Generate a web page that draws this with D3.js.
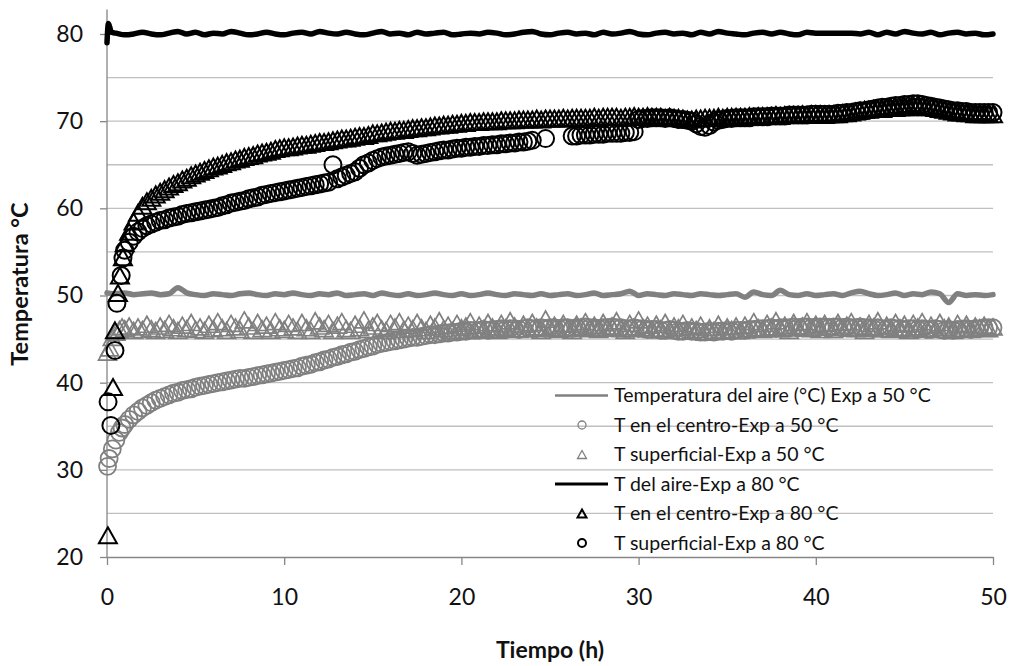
<!DOCTYPE html>
<html>
<head>
<meta charset="utf-8">
<script src="https://cdn.jsdelivr.net/npm/d3@7"></script>
<style>
  body { margin: 0; background: #fff; }
  text { font-family: Lato, "Open Sans", sans-serif; fill: #111; }
</style>
</head>
<body>
<script>
var legendLabels = ["Temperatura del aire (°C) Exp a 50 °C", "T en el centro-Exp a 50 °C", "T superficial-Exp a 50 °C",
                    "T del aire-Exp a 80 °C", "T en el centro-Exp a 80 °C", "T superficial-Exp a 80 °C"];
var xTicks = [0, 10, 20, 30, 40, 50],
    yTicks = [20, 30, 40, 50, 60, 70, 80],
    gridValues = [25, 30, 35, 40, 45, 50, 55, 60, 65, 70, 75, 80],
    yAxisTop = 82.8;

var lineStep = 0.5, markStep = 0.25, markStart = 1;   // logger sampling (h)

// air temperature, 50 °C run: t = 0 .. 50 every 0.5 h
var aire50 = [
  50.3, 50.2, 50.3, 50.1, 50.2, 50.3, 50.1, 50.2, 50.9, 50.3, 50.1, 50.0, 50.2, 50.1, 50.0, 50.2, 50.3, 50.1, 50.0, 50.2,
  50.1, 50.3, 50.1, 50.0, 50.2, 50.1, 50.3, 50.0, 50.1, 50.2, 50.0, 50.3, 50.1, 50.0, 50.2, 50.0, 50.1, 50.3, 50.1, 50.0,
  50.2, 50.0, 50.1, 50.3, 50.1, 50.0, 50.2, 50.1, 50.0, 50.2, 50.0, 50.1, 50.2, 50.0, 50.1, 50.3, 50.0, 50.1, 50.2, 50.5,
  50.0, 50.2, 50.1, 50.0, 50.2, 50.1, 50.0, 50.2, 50.1, 50.0, 50.1, 50.2, 49.8, 50.4, 50.1, 50.0, 50.6, 50.1, 50.0, 50.2,
  50.0, 50.1, 50.2, 50.0, 50.3, 50.5, 50.2, 50.0, 50.1, 50.3, 50.0, 50.2, 50.1, 50.4, 50.2, 49.2, 50.2, 50.0, 50.1, 50.0,
  50.1];

// air temperature, 80 °C run: first readings, then t = 0.5 .. 50 every 0.5 h
var aire80Start = [[0, 79.0], [0.08, 81.2], [0.25, 80.2]];
var aire80 = [
  80.1, 79.9, 80.0, 80.2, 80.0, 79.9, 80.1, 80.3, 80.0, 80.2, 79.9, 80.1, 80.0, 80.3, 80.1, 79.9, 80.0, 80.2, 80.0, 79.9,
  80.1, 80.2, 80.0, 80.3, 80.1, 80.0, 80.2, 80.0, 79.9, 80.1, 80.3, 80.0, 80.1, 79.9, 80.2, 80.0, 80.1, 80.2, 79.9, 80.0,
  80.1, 80.0, 80.2, 80.1, 79.9, 80.0, 80.2, 80.3, 80.0, 79.9, 80.1, 80.2, 80.0, 80.1, 79.9, 80.2, 80.0, 80.1, 80.3, 80.0,
  79.9, 80.1, 80.2, 80.0, 80.1, 79.9, 80.2, 80.0, 80.3, 80.1, 80.0, 79.9, 80.1, 80.2, 80.0, 80.2, 80.0, 79.9, 80.2, 80.1,
  80.1, 80.1, 80.1, 80.1, 80.0, 80.2, 79.9, 80.2, 80.0, 80.3, 80.1, 80.0, 80.2, 79.9, 80.1, 80.2, 80.0, 80.1, 79.9, 80.0];

// product temperatures: first readings [t, T], then t = 1 .. 50 every 0.25 h (null = no reading)
var centro50Start = [[0.03, 30.4], [0.12, 31.3], [0.3, 32.4], [0.5, 33.4], [0.7, 34.3], [0.85, 34.8]];
var centro50 = [
  35.2, 35.8, 36.3, 36.7, 37.1, 37.4, 37.7, 38.0, 38.2, 38.4, 38.6, 38.8, 38.9, 39.1, 39.2, 39.3, 39.5, 39.6, 39.7, 39.8,
  39.9, 40.0, 40.1, 40.2, 40.3, 40.4, 40.5, 40.5, 40.6, 40.7, 40.8, 40.9, 41.0, 41.1, 41.2, 41.3, 41.4, 41.5, 41.6, 41.7,
  41.9, 42.0, 42.1, 42.3, 42.4, 42.6, 42.7, 42.9, 43.0, 43.2, 43.3, 43.5, 43.6, 43.8, 43.9, 44.1, 44.2, 44.4, 44.5, 44.6,
  44.7, 44.8, 44.9, 45.0, 45.1, 45.2, 45.2, 45.3, 45.4, 45.5, 45.5, 45.6, 45.7, 45.7, 45.8, 45.8, 45.9, 45.9, 46.0, 46.0,
  46.0, 46.1, 46.0, 46.1, 46.1, 46.2, 46.1, 46.2, 46.2, 46.1, 46.2, 46.3, 46.2, 46.2, 46.3, 46.2, 46.3, 46.3, 46.2, 46.3,
  46.3, 46.2, 46.3, 46.3, 46.4, 46.3, 46.3, 46.2, 46.3, 46.3, 46.4, 46.3, 46.3, 46.2, 46.2, 46.3, 46.2, 46.2, 46.1, 46.1,
  46.1, 46.0, 46.0, 46.1, 46.0, 45.9, 45.9, 46.0, 45.9, 45.9, 45.8, 45.8, 45.9, 45.8, 45.9, 45.9, 46.0, 45.9, 46.0, 46.0,
  46.0, 46.1, 46.1, 46.2, 46.2, 46.2, 46.3, 46.2, 46.3, 46.3, 46.3, 46.4, 46.3, 46.4, 46.4, 46.3, 46.4, 46.4, 46.4, 46.3,
  46.4, 46.4, 46.3, 46.4, 46.3, 46.3, 46.4, 46.3, 46.3, 46.2, 46.3, 46.2, 46.2, 46.3, 46.2, 46.2, 46.1, 46.2, 46.2, 46.1,
  46.2, 46.1, 46.1, 46.2, 46.1, 46.0, 46.1, 46.0, 46.1, 46.1, 46.2, 46.1, 46.2, 46.2, 46.3, 46.3, 46.3];

var sup50Start = [[0.03, 43.5], [0.15, 44.0], [0.3, 45.2], [0.5, 45.8], [0.7, 46.1], [0.85, 46.4]];
var sup50 = [
  46.2, 46.5, 46.0, 46.4, 46.1, 46.7, 46.2, 46.0, 46.5, 46.1, 46.8, 46.3, 46.0, 46.6, 46.2, 46.9, 46.1, 46.4, 46.0, 46.7,
  46.2, 47.0, 46.3, 46.0, 46.8, 46.4, 46.1, 47.2, 46.5, 46.0, 46.9, 46.2, 46.6, 46.0, 47.0, 46.3, 46.1, 46.8, 46.4, 46.0,
  46.9, 46.3, 46.0, 47.1, 46.5, 46.2, 46.8, 46.0, 46.6, 47.0, 46.2, 46.0, 46.7, 46.3, 47.2, 46.1, 46.5, 46.9, 46.2, 46.0,
  46.8, 46.4, 47.0, 46.1, 46.6, 46.2, 46.9, 46.3, 46.0, 46.7, 46.4, 47.1, 46.2, 46.6, 46.0, 46.8, 46.3, 46.5, 47.0, 46.1,
  46.6, 46.2, 46.9, 46.4, 46.0, 46.8, 46.3, 47.1, 46.5, 46.1, 46.7, 46.2, 46.9, 46.4, 46.0, 47.3, 46.3, 46.6, 46.1, 46.8,
  46.3, 46.0, 46.7, 46.4, 47.0, 46.2, 46.6, 46.1, 46.9, 46.3, 46.5, 47.1, 46.2, 46.0, 46.8, 46.4, 47.2, 46.3, 46.6, 46.1,
  46.7, 46.2, 46.9, 46.0, 46.5, 46.3, 46.8, 45.9, 46.4, 46.1, 46.6, 45.8, 46.3, 46.0, 46.7, 45.9, 46.4, 46.1, 46.5, 46.0,
  46.6, 46.2, 47.0, 46.3, 46.1, 46.8, 46.4, 47.1, 46.2, 46.6, 46.0, 46.9, 46.3, 46.5, 47.0, 46.2, 46.7, 46.1, 46.8, 46.4,
  46.1, 46.9, 46.3, 46.6, 47.0, 46.2, 46.5, 46.0, 46.8, 46.4, 47.1, 46.2, 46.6, 46.1, 46.9, 46.3, 46.7, 46.0, 46.8, 46.4,
  47.0, 46.2, 46.6, 46.1, 46.9, 46.3, 46.5, 46.0, 46.8, 46.2, 46.7, 46.1, 46.5, 46.3, 46.6, 46.2, 46.4];

var centro80Start = [[0.05, 22.5], [0.34, 39.5], [0.45, 46.0], [0.62, 50.3], [0.73, 52.3], [0.9, 54.4]];
var centro80 = [
  56.0, 57.3, 58.5, 59.5, 60.3, 60.8, 61.2, 61.6, 61.9, 62.2, 62.5, 62.8, 63.0, 63.3, 63.5, 63.8, 64.0, 64.2, 64.4, 64.6,
  64.8, 64.9, 65.1, 65.3, 65.4, 65.6, 65.7, 65.9, 66.0, 66.1, 66.3, 66.4, 66.5, 66.6, 66.8, 66.9, 67.0, 67.0, 67.1, 67.2,
  67.3, 67.3, 67.4, 67.5, 67.6, 67.6, 67.7, 67.8, 67.9, 68.0, 68.0, 68.1, 68.2, 68.3, 68.3, 68.4, 68.6, 68.6, 68.7, 68.8,
  68.9, 68.9, 69.0, 69.0, 69.1, 69.2, 69.2, 69.3, 69.3, 69.4, 69.5, 69.5, 69.6, 69.6, 69.7, 69.7, 69.8, 69.8, 69.9, 69.9,
  69.9, 70.0, 70.0, 70.0, 70.0, 70.1, 70.1, 70.1, 70.1, 70.2, 70.2, 70.2, 70.2, 70.3, 70.2, 70.3, 70.3, 70.3, 70.3, 70.4,
  70.3, 70.4, 70.4, 70.4, 70.4, 70.4, 70.5, 70.4, 70.5, 70.5, 70.5, 70.5, 70.4, 70.5, 70.5, 70.6, 70.5, 70.5, 70.6, 70.5,
  70.5, 70.5, 70.4, 70.5, 70.4, 70.4, 70.3, 70.2, 70.2, 70.3, 70.3, 70.4, 70.4, 70.4, 70.5, 70.4, 70.5, 70.5, 70.5, 70.5,
  70.5, 70.6, 70.5, 70.6, 70.6, 70.6, 70.6, 70.7, 70.6, 70.7, 70.7, 70.7, 70.7, 70.8, 70.7, 70.8, 70.8, 70.8, 70.7, 70.8,
  70.8, 70.8, 70.9, 70.9, 71.0, 71.1, 71.2, 71.3, 71.3, 71.4, 71.4, 71.4, 71.5, 71.5, 71.5, 71.6, 71.6, 71.6, 71.7, 71.7,
  71.7, 71.6, 71.6, 71.5, 71.4, 71.3, 71.2, 71.1, 71.0, 71.0, 70.9, 70.9, 70.8, 70.8, 70.8, 70.8, 70.8];

var sup80Start = [[0.06, 37.8], [0.22, 35.1], [0.45, 43.7], [0.56, 49.1], [0.8, 52.3], [0.9, 54.3]];
var sup80 = [
  55.2, 56.1, 56.8, 57.3, 57.7, 58.0, 58.2, 58.4, 58.6, 58.7, 58.9, 59.0, 59.1, 59.3, 59.4, 59.5, 59.6, 59.7, 59.8, 59.9,
  60.0, 60.1, 60.3, 60.4, 60.6, 60.7, 60.8, 60.9, 61.1, 61.2, 61.3, 61.5, 61.6, 61.7, 61.8, 61.9, 62.0, 62.1, 62.2, 62.3,
  62.4, 62.5, 62.6, 62.7, 62.8, 62.9, 63.0, 65.0, 63.4, 63.6, 63.8, 64.0, 64.2, 64.6, 65.0, 65.2, 65.5, 65.7, 65.9, 66.0,
  66.1, 66.2, 66.3, 66.4, 66.5, 66.3, 66.1, 66.2, 66.3, 66.4, 66.5, 66.6, 66.7, 66.7, 66.8, 66.9, 66.9, 67.0, 67.0, 67.1,
  67.1, 67.2, 67.2, 67.3, 67.3, 67.4, 67.4, 67.5, 67.5, 67.6, 67.6, 67.7, 67.8, null, null, 68.0, null, null, null, null,
  null, 68.3, 68.3, 68.4, 68.4, 68.4, 68.5, 68.5, 68.5, 68.6, 68.6, 68.6, 68.6, 68.7, 68.7, 68.8, 70.2, 70.3, 70.3, 70.4,
  70.4, 70.4, 70.3, 70.4, 70.3, 70.2, 70.2, 70.1, 70.0, 69.7, 69.4, 69.3, 69.5, 69.9, 70.1, 70.2, 70.3, 70.3, 70.4, 70.4,
  70.4, 70.4, 70.5, 70.5, 70.5, 70.5, 70.6, 70.6, 70.6, 70.6, 70.7, 70.7, 70.7, 70.7, 70.7, 70.8, 70.8, 70.8, 70.8, 70.8,
  70.8, 70.9, 70.9, 71.0, 71.0, 71.1, 71.2, 71.2, 71.3, 71.4, 71.5, 71.6, 71.6, 71.7, 71.8, 71.8, 71.9, 71.9, 72.0, 72.0,
  71.9, 71.8, 71.7, 71.6, 71.5, 71.4, 71.3, 71.2, 71.2, 71.1, 71.1, 71.0, 71.0, 71.0, 71.0, 71.0, 71.0];

var W = 1010, H = 666;
var gray = "#808080", black = "#000";

function series(start, t0, dt, values) {
  return start.concat(values.map(function(v, i) { return [t0 + i * dt, v]; }))
    .filter(function(d) { return d[1] !== null; });
}

var x = d3.scaleLinear().domain([0, 50]).range([107, 993]),
    y = d3.scaleLinear().domain([20, 80]).range([557, 34]);

var svg = d3.select("body").append("svg")
    .attr("width", W)
    .attr("height", H);

// gridlines every 5 °C
svg.append("g").selectAll("line")
    .data(gridValues)
  .enter().append("line")
    .attr("x1", x(0)).attr("x2", x(50))
    .attr("y1", function(d) { return y(d); })
    .attr("y2", function(d) { return y(d); })
    .attr("stroke", "#c0c0c0")
    .attr("stroke-width", 1.3);

// axes
var yAxis = svg.append("g")
    .attr("transform", "translate(" + x(0) + ",0)")
    .call(d3.axisLeft(y).tickValues(yTicks).tickSize(7).tickSizeOuter(0).tickPadding(17));
yAxis.select(".domain").remove();
yAxis.append("line")
    .attr("y1", y(20)).attr("y2", y(yAxisTop))
    .attr("stroke", "#868686").attr("stroke-width", 1.3);

var xAxis = svg.append("g")
    .attr("transform", "translate(0," + y(20) + ")")
    .call(d3.axisBottom(x).tickValues(xTicks).tickSize(8).tickSizeOuter(0).tickPadding(24));

svg.selectAll(".tick line, .domain").attr("stroke", "#868686").attr("stroke-width", 1.3);
svg.selectAll(".tick text")
    .style("font-family", "Lato, 'Open Sans', sans-serif")
    .style("font-size", "23px")
    .attr("fill", "#111");

svg.append("text")
    .attr("transform", "translate(28," + 284 + ") rotate(-90)")
    .attr("text-anchor", "middle")
    .style("font-size", "23.5px")
    .style("font-weight", "bold")
    .text("Temperatura °C");

svg.append("text")
    .attr("x", (x(0) + x(50)) / 2)
    .attr("y", 658)
    .attr("text-anchor", "middle")
    .style("font-size", "23px")
    .style("font-weight", "bold")
    .text("Tiempo (h)");

var line = d3.line()
    .x(function(d) { return x(d[0]); })
    .y(function(d) { return y(d[1]); })
    .curve(d3.curveMonotoneX);

var tri = "M0,-8L9,8L-9,8Z",
    triSmall = "M0,-4L4.5,4L-4.5,4Z";

function drawLine(data, color) {
  svg.append("path")
      .datum(data)
      .attr("d", line)
      .attr("fill", "none")
      .attr("stroke", color)
      .attr("stroke-width", 5.5)
      .attr("stroke-linejoin", "round")
      .attr("stroke-linecap", "round");
}

function drawCircles(data, color, sw) {
  svg.append("g").selectAll("circle")
      .data(data)
    .enter().append("circle")
      .attr("cx", function(d) { return x(d[0]); })
      .attr("cy", function(d) { return y(d[1]); })
      .attr("r", 8.5)
      .attr("fill", "none")
      .attr("stroke", color)
      .attr("stroke-width", sw);
}

function drawTriangles(data, color, sw) {
  svg.append("g").selectAll("path")
      .data(data)
    .enter().append("path")
      .attr("transform", function(d) { return "translate(" + x(d[0]) + "," + y(d[1]) + ")"; })
      .attr("d", tri)
      .attr("fill", "none")
      .attr("stroke", color)
      .attr("stroke-width", sw);
}

// series in the worksheet order
drawLine(series([], 0, lineStep, aire50), gray);
drawCircles(series(centro50Start, markStart, markStep, centro50), gray, 1.8);
drawTriangles(series(sup50Start, markStart, markStep, sup50), gray, 1.7);
drawLine(series(aire80Start, 0.5, lineStep, aire80), black);
drawTriangles(series(centro80Start, markStart, markStep, centro80), black, 2);
drawCircles(series(sup80Start, markStart, markStep, sup80), black, 2);

// legend (no box, gridlines show through)
var legendKinds = ["line", "circle", "triangle", "line", "triangle", "circle"],
    legendColors = [gray, gray, gray, black, black, black];

var lg = svg.append("g").selectAll("g")
    .data(legendLabels)
  .enter().append("g")
    .attr("transform", function(d, i) { return "translate(582," + (395.5 + i * 29.5) + ")"; });

lg.each(function(d, i) {
  var g = d3.select(this), c = legendColors[i], bold = c === black;
  if (legendKinds[i] === "line") {
    g.append("line").attr("x1", -27).attr("x2", 26)
      .attr("stroke", c).attr("stroke-width", bold ? 3 : 2.5);
  } else if (legendKinds[i] === "circle") {
    g.append("circle").attr("r", 4).attr("fill", "none")
      .attr("stroke", c).attr("stroke-width", bold ? 2 : 1.3);
  } else {
    g.append("path").attr("d", triSmall).attr("fill", "none")
      .attr("stroke", c).attr("stroke-width", bold ? 2 : 1.3);
  }
  g.append("text")
      .attr("x", 32)
      .attr("dy", "0.35em")
      .style("font-size", "19.5px")
      .text(d);
});
</script>
</body>
</html>
